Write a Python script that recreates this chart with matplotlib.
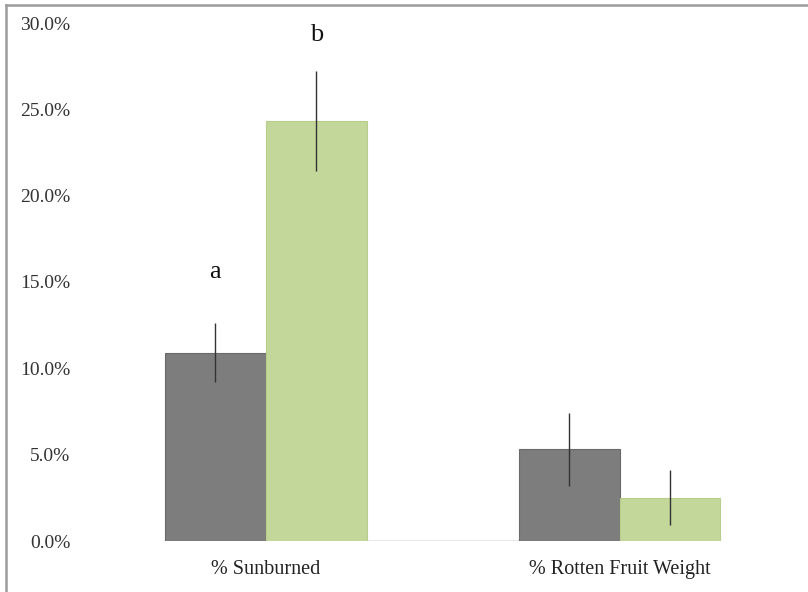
import numpy as np
import matplotlib
matplotlib.use("Agg")
import matplotlib.pyplot as plt
from matplotlib.lines import Line2D
from matplotlib.ticker import FuncFormatter

categories = ["% Sunburned", "% Rotten Fruit Weight"]
series_gray = [10.9, 5.3]
series_green = [24.3, 2.5]
err_gray = [1.7, 2.1]
err_green = [2.9, 1.6]
letters_gray = ["a", ""]
letters_green = ["b", ""]
letter_y_gray = [15.6, None]
letter_y_green = [29.3, None]
y_ticks = [0, 5, 10, 15, 20, 25, 30]

plt.rcParams["font.family"] = ["Liberation Serif", "DejaVu Serif"]

fig = plt.figure(figsize=(8.08, 5.92), dpi=100)
ax = fig.add_axes([80 / 808, 51 / 592, 720 / 808, 518 / 592])

x = np.arange(len(categories))
w = 0.285
gray = "#7d7d7d"
green = "#c3d79b"

ax.bar(x - w / 2, series_gray, width=w, color=gray, edgecolor="#6a6a6a",
       linewidth=0.8, zorder=2)
ax.bar(x + w / 2, series_green, width=w, color=green, edgecolor="#b6cd8c",
       linewidth=0.8, zorder=2)

ax.errorbar(x - w / 2, series_gray, yerr=err_gray, fmt="none",
            ecolor="#333333", elinewidth=1.0, capsize=0, zorder=3)
ax.errorbar(x + w / 2, series_green, yerr=err_green, fmt="none",
            ecolor="#333333", elinewidth=1.0, capsize=0, zorder=3)

for i in range(len(categories)):
    if letters_gray[i]:
        ax.text(x[i] - w / 2, letter_y_gray[i], letters_gray[i], ha="center",
                va="center", fontsize=19, color="#111111", clip_on=False)
    if letters_green[i]:
        ax.text(x[i] + w / 2, letter_y_green[i], letters_green[i], ha="center",
                va="center", fontsize=19, color="#111111", clip_on=False)

# baseline spanning the bar groups
ax.plot([x[0] - w, x[-1] + w], [0, 0], color="#8a8a8a", linewidth=1.0,
        zorder=1, solid_capstyle="butt")

ax.set_xlim(-0.525, 1.51)
ax.set_ylim(0, 30)
ax.set_yticks(y_ticks)
ax.yaxis.set_major_formatter(FuncFormatter(lambda v, p: f"{v:.1f}%"))
ax.set_xticks(x)
ax.set_xticklabels(categories)
ax.tick_params(axis="y", length=0, pad=7, labelsize=14, colors="#333333")
ax.tick_params(axis="x", length=0, pad=14, labelsize=14.5, colors="#222222")
for s in ax.spines.values():
    s.set_visible(False)

# outer frame on the top and left edges
fig.add_artist(Line2D([6 / 808, 1], [1 - 5 / 592, 1 - 5 / 592],
                      transform=fig.transFigure, color="#9c9c9c", linewidth=1.8))
fig.add_artist(Line2D([6 / 808, 6 / 808], [0, 1 - 5 / 592],
                      transform=fig.transFigure, color="#9c9c9c", linewidth=1.8))

fig.savefig("out.png", dpi=100)
